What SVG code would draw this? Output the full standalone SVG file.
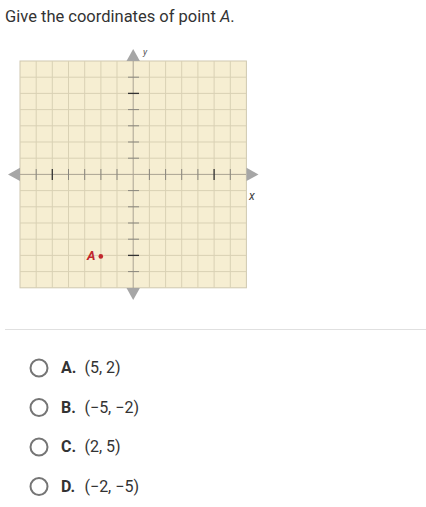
<svg xmlns="http://www.w3.org/2000/svg" width="426" height="507" viewBox="0 0 426 507">
<style>
.t{font-family:Roboto,"Liberation Sans",sans-serif;fill:#333}
.grid line{stroke:#d9d1b4;stroke-width:1}
.ax{stroke:#aaa393;stroke-width:1}
.tk{stroke:#8a877e;stroke-width:1}
.tkd{stroke:#333;stroke-width:1.3}
.arr{fill:#a6a6a6}
.radio{fill:#fff;stroke:#757575;stroke-width:2}
</style>
<rect width="426" height="507" fill="#fff"/>
<text class="t" x="5" y="22" font-size="16.5">Give the coordinates of point <tspan font-style="italic">A</tspan>.</text>
<g id="graph">
<rect x="20" y="61" width="226.4" height="226.8" fill="#f6eed2" stroke="#cfc8b0" stroke-width="1"/>
<g class="grid">
<line x1="36.2" y1="61" x2="36.2" y2="288"/><line x1="52.3" y1="61" x2="52.3" y2="288"/><line x1="68.5" y1="61" x2="68.5" y2="288"/><line x1="84.7" y1="61" x2="84.7" y2="288"/><line x1="100.9" y1="61" x2="100.9" y2="288"/><line x1="117" y1="61" x2="117" y2="288"/>
<line x1="149.4" y1="61" x2="149.4" y2="288"/><line x1="165.6" y1="61" x2="165.6" y2="288"/><line x1="181.7" y1="61" x2="181.7" y2="288"/><line x1="197.9" y1="61" x2="197.9" y2="288"/><line x1="214.1" y1="61" x2="214.1" y2="288"/><line x1="230.3" y1="61" x2="230.3" y2="288"/>
<line x1="20" y1="77.2" x2="246" y2="77.2"/><line x1="20" y1="93.4" x2="246" y2="93.4"/><line x1="20" y1="109.6" x2="246" y2="109.6"/><line x1="20" y1="125.8" x2="246" y2="125.8"/><line x1="20" y1="142" x2="246" y2="142"/><line x1="20" y1="158.2" x2="246" y2="158.2"/>
<line x1="20" y1="190.6" x2="246" y2="190.6"/><line x1="20" y1="206.8" x2="246" y2="206.8"/><line x1="20" y1="223" x2="246" y2="223"/><line x1="20" y1="239.2" x2="246" y2="239.2"/><line x1="20" y1="255.4" x2="246" y2="255.4"/><line x1="20" y1="271.6" x2="246" y2="271.6"/>
</g>
<line class="ax" x1="133.2" y1="61" x2="133.2" y2="288"/>
<line class="ax" x1="20" y1="174.4" x2="246" y2="174.4"/>
<g>
<line class="tk" x1="128" y1="77.2" x2="139" y2="77.2"/><line class="tkd" x1="128" y1="93.4" x2="139" y2="93.4"/><line class="tk" x1="128" y1="109.6" x2="139" y2="109.6"/><line class="tk" x1="128" y1="125.8" x2="139" y2="125.8"/><line class="tk" x1="128" y1="142" x2="139" y2="142"/><line class="tk" x1="128" y1="158.2" x2="139" y2="158.2"/>
<line class="tk" x1="128" y1="190.6" x2="139" y2="190.6"/><line class="tk" x1="128" y1="206.8" x2="139" y2="206.8"/><line class="tk" x1="128" y1="223" x2="139" y2="223"/><line class="tk" x1="128" y1="239.2" x2="139" y2="239.2"/><line class="tkd" x1="128" y1="255.4" x2="139" y2="255.4"/><line class="tk" x1="128" y1="271.6" x2="139" y2="271.6"/>
<line class="tk" x1="36.2" y1="169" x2="36.2" y2="180"/><line class="tkd" x1="52.3" y1="169" x2="52.3" y2="180"/><line class="tk" x1="68.5" y1="169" x2="68.5" y2="180"/><line class="tk" x1="84.7" y1="169" x2="84.7" y2="180"/><line class="tk" x1="100.9" y1="169" x2="100.9" y2="180"/><line class="tk" x1="117" y1="169" x2="117" y2="180"/>
<line class="tk" x1="149.4" y1="169" x2="149.4" y2="180"/><line class="tk" x1="165.6" y1="169" x2="165.6" y2="180"/><line class="tk" x1="181.7" y1="169" x2="181.7" y2="180"/><line class="tk" x1="197.9" y1="169" x2="197.9" y2="180"/><line class="tkd" x1="214.1" y1="169" x2="214.1" y2="180"/><line class="tk" x1="230.3" y1="169" x2="230.3" y2="180"/>
</g>
<polygon class="arr" points="133.2,49 126.5,61 139.9,61"/>
<polygon class="arr" points="133.2,300 126.5,288 139.9,288"/>
<polygon class="arr" points="8,174.4 20,167.7 20,181.1"/>
<polygon class="arr" points="258.5,174.4 246.5,167.7 246.5,181.1"/>
<text x="143" y="55" font-family="Roboto,'Liberation Sans',sans-serif" font-size="9" font-style="italic" fill="#555">y</text>
<text x="249" y="200" font-family="Roboto,'Liberation Sans',sans-serif" font-size="12" font-style="italic" fill="#444">x</text>
</g>
<g id="pointA">
<circle cx="100.8" cy="256.4" r="2.3" fill="#c1272d"/>
<text x="87" y="260" font-family="Roboto,'Liberation Sans',sans-serif" font-size="13" font-weight="bold" font-style="italic" fill="#c1272d">A</text>
</g>
<line x1="5" y1="329.5" x2="426" y2="329.5" stroke="#e0e0e0" stroke-width="1"/>
<g id="optA"><circle class="radio" cx="39" cy="368" r="8.5"/><text class="t" x="61" y="373" font-size="16"><tspan font-weight="bold">A.</tspan><tspan x="84.5">(5, 2)</tspan></text></g>
<g id="optB"><circle class="radio" cx="39" cy="407.5" r="8.5"/><text class="t" x="61" y="413" font-size="16"><tspan font-weight="bold">B.</tspan><tspan x="84.5">(−5, −2)</tspan></text></g>
<g id="optC"><circle class="radio" cx="39" cy="447" r="8.5"/><text class="t" x="61" y="452" font-size="16"><tspan font-weight="bold">C.</tspan><tspan x="84.5">(2, 5)</tspan></text></g>
<g id="optD"><circle class="radio" cx="39" cy="486.5" r="8.5"/><text class="t" x="61" y="492" font-size="16"><tspan font-weight="bold">D.</tspan><tspan x="84.5">(−2, −5)</tspan></text></g>
</svg>
